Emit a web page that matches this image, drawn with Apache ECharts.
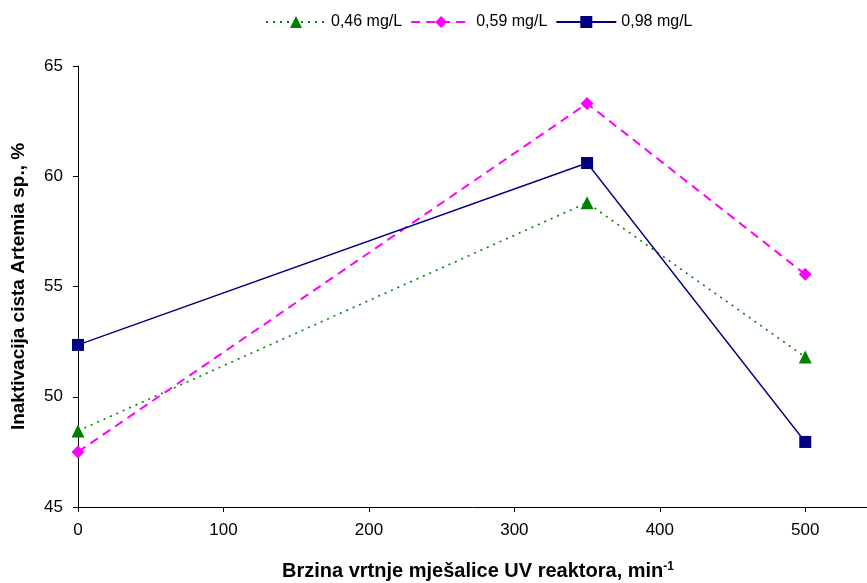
<!DOCTYPE html>
<html><head><meta charset="utf-8">
<script src="https://cdn.jsdelivr.net/npm/echarts@6/dist/echarts.min.js"></script>
<style>html,body{margin:0;padding:0;background:#fff}#c{width:867px;height:583px}</style>
</head><body><div id="c"></div>
<script>
const xValues = [0, 350, 500];
const seriesNames = ['0,46 mg/L', '0,59 mg/L', '0,98 mg/L'];
const s046 = [48.45, 58.8, 51.8];
const s059 = [47.5, 63.3, 55.55];
const s098 = [52.35, 60.6, 47.95];
const yTicks = [45, 50, 55, 60, 65];

const font = 'Liberation Sans, Arial, sans-serif';
const chart = echarts.init(document.getElementById('c'));
const mk = arr => arr.map((v, i) => [xValues[i], v]);
chart.setOption({
  animation: false,
  legend: {
    top: 9, left: 260,
    itemWidth: 60, itemHeight: 15, itemGap: 8,
    textStyle: {fontFamily: font, fontSize: 16, color: '#000'},
    data: seriesNames
  },
  grid: {left: 78, right: -11, top: 66, bottom: 76, containLabel: false, outerBoundsMode: 'none'},
  xAxis: {
    type: 'value', min: 0, max: 550, interval: 100,
    name: 'Brzina vrtnje mješalice UV reaktora, min{sup|-1}',
    nameLocation: 'middle', nameGap: 54,
    nameTextStyle: {fontFamily: font, fontSize: 20, fontWeight: 'bold', color: '#000',
      rich: {sup: {fontFamily: font, fontSize: 12, fontWeight: 'bold', verticalAlign: 'top', padding: [0,0,9,0]}}},
    axisLine: {lineStyle: {color: '#000', width: 1}},
    axisTick: {show: true, inside: false, length: 5, lineStyle: {color: '#000'}},
    axisLabel: {fontFamily: font, fontSize: 17, color: '#000', margin: 15, showMaxLabel: false},
    splitLine: {show: false}
  },
  yAxis: {
    type: 'value', min: yTicks[0], max: yTicks[yTicks.length-1], interval: 5,
    name: 'Inaktivacija cista Artemia sp., %',
    nameLocation: 'middle', nameGap: 50, nameRotate: 90,
    nameTextStyle: {fontFamily: font, fontSize: 19, fontWeight: 'bold', color: '#000'},
    axisLine: {show: true, lineStyle: {color: '#000', width: 1}},
    axisTick: {show: true, inside: false, length: 5, lineStyle: {color: '#000'}},
    axisLabel: {fontFamily: font, fontSize: 17, color: '#000', margin: 15},
    splitLine: {show: false}
  },
  series: [
    {name: seriesNames[0], type: 'line', data: mk(s046), symbol: 'triangle', symbolSize: 13,
     itemStyle: {color: '#008000'}, lineStyle: {color: '#008000', width: 1.6, type: [2, 5]}},
    {name: seriesNames[1], type: 'line', data: mk(s059), symbol: 'diamond', symbolSize: 13,
     itemStyle: {color: '#FF00FF'}, lineStyle: {color: '#FF00FF', width: 2, type: [9, 6]}},
    {name: seriesNames[2], type: 'line', data: mk(s098), symbol: 'rect', symbolSize: 12,
     itemStyle: {color: '#000080'}, lineStyle: {color: '#000080', width: 1.4, type: 'solid'}}
  ]
});
</script></body></html>
